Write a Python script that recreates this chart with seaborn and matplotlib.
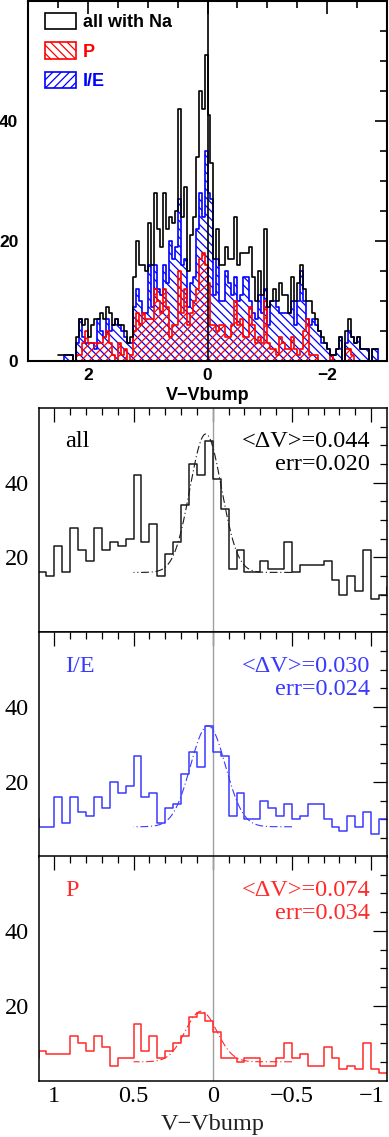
import matplotlib
matplotlib.use("Agg")
import matplotlib.pyplot as plt
from matplotlib.patches import Patch
import numpy as np
import pandas as pd
import seaborn as sns

# counts in 0.05 mag bins, listed left to right on the plot (V-Vbump decreasing)
BIN_START = 2.5
BIN_WIDTH = 0.05

# wing 2.5 .. 1.1
all_left = [1, 1, 1, 1, 1, 0, 4, 7, 6, 7, 4, 6, 7, 7, 8, 7, 9, 8, 6, 7, 6, 6, 5, 3, 4, 14, 20, 16]
ie_left = [0, 0, 1, 1, 1, 0, 3, 7, 4, 3, 3, 3, 2, 7, 5, 4, 7, 5, 6, 7, 6, 5, 4, 3, 3, 9, 12, 10]
p_left = [0, 0, 0, 0, 0, 0, 1, 1, 3, 5, 3, 3, 3, 3, 3, 4, 5, 3, 1, 0, 3, 1, 2, 0, 1, 5, 8, 6]

# core 1.1 .. -1.1 (range of the lower panels)
all_core = [16, 15, 23, 16, 28, 22, 19, 28, 22, 24, 23, 25, 42, 24, 29, 15, 21, 24, 34, 45, 42, 51,
            41, 33, 17, 22, 16, 16, 19, 17, 17, 24, 16, 18, 18, 18, 19, 14, 10, 15, 11, 22, 9, 10]
ie_core = [8, 8, 16, 9, 16, 12, 11, 16, 13, 20, 17, 19, 27, 16, 17, 9, 13, 14, 22, 28, 24, 35,
           28, 27, 11, 17, 10, 10, 15, 13, 11, 14, 10, 11, 14, 14, 10, 8, 7, 11, 8, 12, 6, 10]
p_core = [8, 7, 7, 7, 12, 10, 8, 12, 9, 4, 6, 6, 15, 8, 12, 6, 8, 10, 12, 17, 18, 16,
          13, 6, 6, 5, 6, 6, 4, 4, 6, 10, 6, 7, 4, 4, 9, 6, 3, 4, 3, 10, 3, 2]

# wing -1.1 .. -2.85
all_right = [12, 10, 13, 11, 11, 8, 14, 10, 13, 16, 12, 10, 10, 8, 7, 5, 4, 3, 2, 1, 1, 2, 4, 0,
             5, 7, 4, 3, 4, 2, 2, 2, 0, 2, 2]
ie_right = [10, 9, 8, 8, 8, 8, 10, 6, 10, 15, 10, 7, 6, 7, 6, 5, 3, 3, 2, 1, 1, 2, 4, 0,
            3, 5, 4, 3, 4, 2, 2, 2, 0, 2, 2]
p_right = [2, 1, 4, 3, 2, 2, 4, 2, 1, 2, 5, 7, 1, 1, 1, 0, 0, 0, 0, 1, 0, 0, 0, 0,
           2, 2, 1, 0, 0, 0, 0, 0, 0, 0, 0]

# gaussian fits: mean, sigma, amplitude, baseline
fit_all = (0.044, 0.100, 37.0, 16.0)
fit_ie = (0.030, 0.110, 27.0, 8.0)
fit_p = (0.074, 0.100, 13.5, 5.0)
FIT_RANGE = (-0.5, 0.5)

err_all, err_ie, err_p = "0.020", "0.024", "0.034"

BLUE = "#0000ff"
RED = "#ff0000"
BLUE_LINE = "#3a3aff"
RED_LINE = "#ff2a2a"


def build_table():
    counts = {
        "n_all": all_left + all_core + all_right,
        "n_ie": ie_left + ie_core + ie_right,
        "n_p": p_left + p_core + p_right,
    }
    n = len(counts["n_all"])
    table = pd.DataFrame(counts)
    table["v"] = BIN_START - BIN_WIDTH * (np.arange(n) + 0.5)
    edges = [float(e) for e in np.sort(BIN_START - BIN_WIDTH * np.arange(n + 1))]
    return table, edges


def hatched(ax, table, edges, col, color, hatch):
    sns.histplot(data=table, x="v", weights=col, bins=edges, element="step",
                 fill=True, alpha=1, color=color, ax=ax)
    coll = ax.collections[-1]
    coll.set_facecolor("none")
    coll.set_edgecolor(color)
    coll.set_linewidth(1.2)
    coll.set_hatch(hatch)


def gauss_line(ax, fit, color):
    mu, sig, amp, base = fit
    xs = np.linspace(FIT_RANGE[0], FIT_RANGE[1], 200)
    ys = base + amp * np.exp(-0.5 * ((xs - mu) / sig) ** 2)
    sns.lineplot(x=xs, y=ys, color=color, lw=0.8, linestyle=(0, (7, 2.5, 1, 2.5)), ax=ax)


sns.set_theme(style="white")
plt.rcParams["hatch.linewidth"] = 0.9
plt.rcParams["axes.unicode_minus"] = True

table, edges = build_table()

fig = plt.figure(figsize=(3.89, 11.37), dpi=100)
W, H = 389.0, 1137.0

# ---------- top panel ----------
SANS = "Liberation Sans"
ax = fig.add_axes([28 / W, 1 - 361 / H, 359 / W, 360 / H])
sns.histplot(data=table, x="v", weights="n_all", bins=edges, element="step",
             fill=False, color="black", linewidth=1.2, ax=ax)
hatched(ax, table, edges, "n_ie", BLUE, "\\\\\\\\")
hatched(ax, table, edges, "n_p", RED, "////")
ax.axvline(0, color="black", lw=1.2)
ax.set_xlim(3, -3)
ax.set_ylim(0, 60)
ax.set_xticks([2, 0, -2], ["2", "0", "\u22122"])
ax.set_xticks(np.arange(-2.5, 2.6, 0.5), minor=True)
ax.set_yticks([0, 20, 40], ["0", "20", "40"])
ax.set_yticks(np.arange(5, 60, 5), minor=True)
ax.tick_params(which="both", direction="in", top=True, right=True, width=1.2, colors="black")
ax.tick_params(which="major", length=9)
ax.tick_params(which="minor", length=5)
ax.tick_params(axis="x", pad=5)
ax.tick_params(axis="y", pad=7)
for lab in ax.get_xticklabels() + ax.get_yticklabels():
    lab.set_family(SANS)
    lab.set_fontweight("bold")
    lab.set_fontsize(12.5)
ax.set_xlabel("V\u2212Vbump", family=SANS, fontweight="bold", fontsize=13,
              labelpad=3, color="black")
ax.set_ylabel("")
for sp in ax.spines.values():
    sp.set_color("black")
    sp.set_linewidth(1.5)

handles = [
    Patch(facecolor="none", edgecolor="black", lw=1.2, label="all with Na"),
    Patch(facecolor="none", edgecolor=RED, lw=1.2, hatch="\\\\\\\\", label="P"),
    Patch(facecolor="none", edgecolor=BLUE, lw=1.2, hatch="////", label="I/E"),
]
ax.legend(handles=handles, loc="upper left", bbox_to_anchor=(17 / 359, 1 - 12 / 360),
          borderaxespad=0, borderpad=0, frameon=False, handlelength=1.7, handleheight=1.0,
          labelspacing=0.62, handletextpad=0.4, labelcolor=["black", RED, BLUE],
          prop={"family": SANS, "weight": "bold", "size": 13})

# ---------- lower panels ----------
SERIF = "Liberation Serif"
panels = [
    ("n_all", "all", fit_all, err_all, "#1a1a1a", "black", 632.3),
    ("n_ie", "I/E", fit_ie, err_ie, BLUE_LINE, BLUE_LINE, 856.7),
    ("n_p", "P", fit_p, err_p, RED_LINE, RED_LINE, 1080.5),
]
for col, name, fit, err, lcolor, tcolor, bottom_px in panels:
    bx = fig.add_axes([38.5 / W, 1 - bottom_px / H, 348.5 / W, 224.5 / H])
    bx.axvline(0, color="#a0a0a0", lw=1.0)
    sns.histplot(data=table, x="v", weights=col, bins=edges, element="step",
                 fill=False, color=lcolor, linewidth=1.1, ax=bx)
    gauss_line(bx, fit, lcolor)
    bx.set_xlim(1.1, -1.1)
    bx.set_ylim(0, 60)
    bx.set_xticks([1, 0.5, 0, -0.5, -1], ["1", "0.5", "0", "\u22120.5", "\u22121"])
    bx.set_xticks(np.arange(-1.0, 1.05, 0.1), minor=True)
    bx.set_yticks([20, 40], ["20", "40"])
    bx.set_yticks([5, 10, 15, 25, 30, 35, 45, 50, 55], minor=True)
    bx.tick_params(which="both", direction="in", top=True, right=True, width=0.9, colors="black")
    bx.tick_params(which="major", length=10)
    bx.tick_params(which="minor", length=5)
    bx.tick_params(axis="y", pad=7)
    bx.tick_params(axis="x", pad=4)
    for lab in bx.get_xticklabels() + bx.get_yticklabels():
        lab.set_family(SERIF)
        lab.set_fontsize(17.5)
    bx.set_ylabel("")
    if col == "n_p":
        bx.set_xlabel("V\u2212Vbump", family=SERIF, fontsize=17.5, labelpad=5, color="#222222")
    else:
        bx.set_xlabel("")
        bx.tick_params(axis="x", labelbottom=False)
    for sp in bx.spines.values():
        sp.set_color("black")
        sp.set_linewidth(1.1)
    bx.text(0.076, 0.824, name, transform=bx.transAxes, family=SERIF, fontsize=17.5,
            color=tcolor, va="baseline", ha="left")
    mu_txt = f"{fit[0]:.3f}"
    bx.text(0.951, 0.824, "<\u0394V>=" + mu_txt, transform=bx.transAxes, family=SERIF,
            fontsize=17.5, color=tcolor, va="baseline", ha="right")
    bx.text(0.951, 0.721, "err=" + err, transform=bx.transAxes, family=SERIF,
            fontsize=17.5, color=tcolor, va="baseline", ha="right")

fig.savefig("out.png", dpi=100)
plt.close(fig)
